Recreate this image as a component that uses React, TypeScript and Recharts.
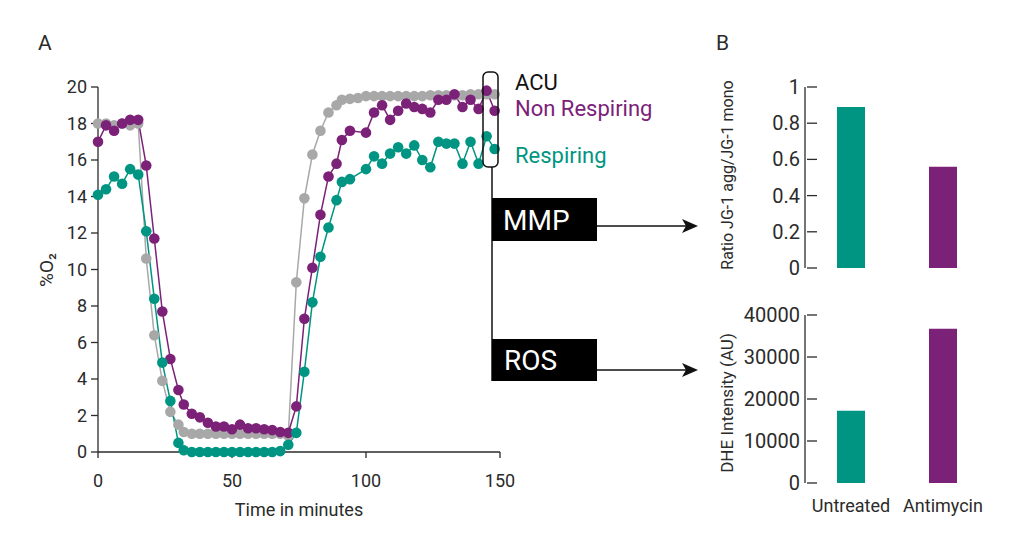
import { LineChart, Line, XAxis, YAxis, BarChart, Bar, Cell, Label } from 'recharts';

const TEAL = '#009582';
const PURPLE = '#7b2178';
const GRAY = '#a8a8a8';
const FONT = 'Roboto, "Open Sans", sans-serif';
const TXT = '#2b2b2b';

// sampling times (minutes)
const times = [0, 3, 6, 9, 12, 15, 18, 21, 24, 27, 30, 32, 35, 38, 41, 44, 47, 50, 53, 56, 59, 62, 65, 68, 71, 74,
  77, 80, 83, 86, 89, 91, 94, 97, 100, 103, 106, 109, 112, 115, 118, 121, 124, 127, 130, 133, 136, 139, 142, 145, 148];

const acu = [18.0, 18.0, 17.9, 18.0, 17.9, 18.0, 10.6, 6.4, 3.9, 2.2, 1.5, 1.1, 1.0, 1.0, 1.0, 1.0, 1.0, 1.0, 1.0, 1.0,
  1.0, 1.0, 1.0, 1.0, 0.9, 9.3, 13.9, 16.3, 17.6, 18.6, 19.0, 19.3, 19.35, 19.4, 19.5, 19.5, 19.5, 19.5, 19.5, 19.5,
  19.5, 19.5, 19.55, 19.55, 19.55, 19.55, 19.55, 19.6, 19.6, 19.6, 19.6];

const nonRespiring = [17.0, 17.9, 17.6, 18.0, 18.2, 18.2, 15.7, 11.7, 7.7, 5.1, 3.4, 2.6, 2.1, 1.9, 1.6, 1.4, 1.4, 1.25,
  1.5, 1.3, 1.3, 1.25, 1.2, 1.1, 1.05, 2.5, 7.3, 10.1, 13.0, 15.1, 15.8, 17.1, 17.6, null, 17.5, 18.6, 19.0, 18.2, 18.7,
  19.1, 18.9, 18.8, 18.6, 19.3, 19.3, 19.6, 18.9, 19.3, 18.8, 19.8, 18.7];

const respiring = [14.1, 14.4, 15.1, 14.7, 15.5, 15.2, 12.1, 8.4, 4.9, 2.8, 0.5, 0.1, 0.0, 0.0, 0.0, 0.0, 0.0, 0.0, 0.0,
  0.0, 0.0, 0.0, 0.0, 0.05, 0.4, 1.05, 4.4, 8.2, 10.7, 12.3, 13.8, 14.8, 14.95, null, 15.5, 16.2, 15.8, 16.35, 16.7,
  16.35, 16.8, 16.0, 15.6, 17.0, 16.9, 16.9, 15.8, 17.0, 15.8, 17.3, 16.6];

const o2Ticks = [0, 2, 4, 6, 8, 10, 12, 14, 16, 18, 20];
const timeTicks = [0, 50, 100, 150];

const groups = ['Untreated', 'Antimycin'];
const mmpRatio = [0.89, 0.56];
const dheIntensity = [17200, 36700];
const ratioTicks = [0, 0.2, 0.4, 0.6, 0.8, 1];
const dheTicks = [0, 10000, 20000, 30000, 40000];

const o2Data = times.map((t, i) => ({ t, acu: acu[i], non: nonRespiring[i], resp: respiring[i] }));
const mmpData = groups.map((name, i) => ({ name, value: mmpRatio[i] }));
const dheData = groups.map((name, i) => ({ name, value: dheIntensity[i] }));
const barColors = [TEAL, PURPLE];

const tickStyle = { fontSize: 18, fill: TXT, fontFamily: FONT };

// y tick that crosses the axis line
const CrossTick = (props: any) => {
  const { x, y, payload } = props;
  return (
    <g>
      <line x1={x + 10} x2={x + 20} y1={y} y2={y} stroke={TXT} strokeWidth={1.3} />
      <text x={x + 3} y={y} dy={7} textAnchor="end" fontSize={20} fill={TXT} fontFamily={FONT}>{payload.value}</text>
    </g>
  );
};

export default function App() {
  return (
    <div style={{ position: 'absolute', left: 0, top: 0, width: 1024, height: 554, background: '#fff', fontFamily: FONT }}>
      <div style={{ position: 'absolute', left: 0, top: 0 }}>
        <LineChart width={520} height={530} data={o2Data} margin={{ top: 87, right: 20, left: 38, bottom: 14 }}>
          <XAxis dataKey="t" type="number" domain={[0, 150]} ticks={timeTicks} tick={tickStyle}
            stroke={TXT} strokeWidth={1.3} tickSize={6} tickMargin={16} height={64}>
            <Label value="Time in minutes" position="insideBottom" offset={0} style={{ fontSize: 18, fill: TXT, fontFamily: FONT }} />
          </XAxis>
          <YAxis domain={[0, 20]} ticks={o2Ticks} tick={tickStyle} stroke={TXT} strokeWidth={1.3} tickSize={7} tickMargin={4} width={60} />
          <Line dataKey="acu" stroke={GRAY} strokeWidth={1.5} dot={{ r: 5.3, fill: GRAY, stroke: GRAY, strokeWidth: 0 }}
            isAnimationActive={false} />
          <Line dataKey="non" stroke={PURPLE} strokeWidth={1.5} dot={{ r: 5.3, fill: PURPLE, stroke: PURPLE, strokeWidth: 0 }}
            connectNulls isAnimationActive={false} />
          <Line dataKey="resp" stroke={TEAL} strokeWidth={1.5} dot={{ r: 5.3, fill: TEAL, stroke: TEAL, strokeWidth: 0 }}
            connectNulls isAnimationActive={false} />
        </LineChart>
      </div>

      <div style={{ position: 'absolute', left: 700, top: 70 }}>
        <BarChart width={300} height={222} data={mmpData} margin={{ top: 17, right: 11, left: 45, bottom: 24 }}>
          <XAxis dataKey="name" hide />
          <YAxis domain={[0, 1]} ticks={ratioTicks} tick={<CrossTick />} tickLine={false} stroke={TXT} strokeWidth={1.3} width={60} />
          <Bar dataKey="value" barSize={28} isAnimationActive={false}>
            {mmpData.map((d, i) => <Cell key={d.name} fill={barColors[i]} />)}
          </Bar>
        </BarChart>
      </div>

      <div style={{ position: 'absolute', left: 700, top: 300 }}>
        <BarChart width={300} height={218} data={dheData} margin={{ top: 15, right: 11, left: 45, bottom: 5 }}>
          <XAxis dataKey="name" axisLine={false} tickLine={false} height={30}
            tick={{ fontSize: 18, fill: TXT, fontFamily: FONT }} tickMargin={10} />
          <YAxis domain={[0, 40000]} ticks={dheTicks} tick={<CrossTick />} tickLine={false} stroke={TXT} strokeWidth={1.3} width={60} />
          <Bar dataKey="value" barSize={28} isAnimationActive={false}>
            {dheData.map((d, i) => <Cell key={d.name} fill={barColors[i]} />)}
          </Bar>
        </BarChart>
      </div>

      {/* annotations */}
      <svg width={1024} height={554} style={{ position: 'absolute', left: 0, top: 0, pointerEvents: 'none' }}>
        <text x={38} y={50} fontSize={21} fill={TXT} fontFamily={FONT}>A</text>
        <text x={716} y={50} fontSize={21} fill={TXT} fontFamily={FONT}>B</text>
        <text transform="translate(53,270) rotate(-90)" textAnchor="middle" fontSize={19} fill={TXT} fontFamily={FONT}>%O₂</text>
        <text transform="translate(733,175) rotate(-90)" textAnchor="middle" fontSize={16} fill={TXT} fontFamily={FONT}>Ratio JG-1 agg/JG-1 mono</text>
        <text transform="translate(733,403) rotate(-90)" textAnchor="middle" fontSize={17} fill={TXT} fontFamily={FONT}>DHE Intensity (AU)</text>

        <rect x={483} y={72} width={15} height={95} rx={5} fill="none" stroke="#111" strokeWidth={1.5} />
        <line x1={492} y1={167} x2={492} y2={381} stroke="#111" strokeWidth={1.5} />
        <text x={515} y={90} fontSize={22} fill="#111" fontFamily={FONT}>ACU</text>
        <text x={515} y={116} fontSize={22} fill={PURPLE} fontFamily={FONT}>Non Respiring</text>
        <text x={515} y={163} fontSize={22} fill={TEAL} fontFamily={FONT}>Respiring</text>

        <rect x={492} y={198} width={105} height={43} fill="#000" />
        <text x={503} y={230} fontSize={28} fill="#fff" fontFamily={FONT}>MMP</text>
        <line x1={597} y1={226} x2={688} y2={226} stroke="#111" strokeWidth={1.5} />
        <polygon points="698,226 682,219 686,226 682,233" fill="#111" />

        <rect x={492} y={339} width={105} height={42} fill="#000" />
        <text x={504} y={370} fontSize={28} fill="#fff" fontFamily={FONT}>ROS</text>
        <line x1={597} y1={370} x2={688} y2={370} stroke="#111" strokeWidth={1.5} />
        <polygon points="698,370 682,363 686,370 682,377" fill="#111" />
      </svg>
    </div>
  );
}
